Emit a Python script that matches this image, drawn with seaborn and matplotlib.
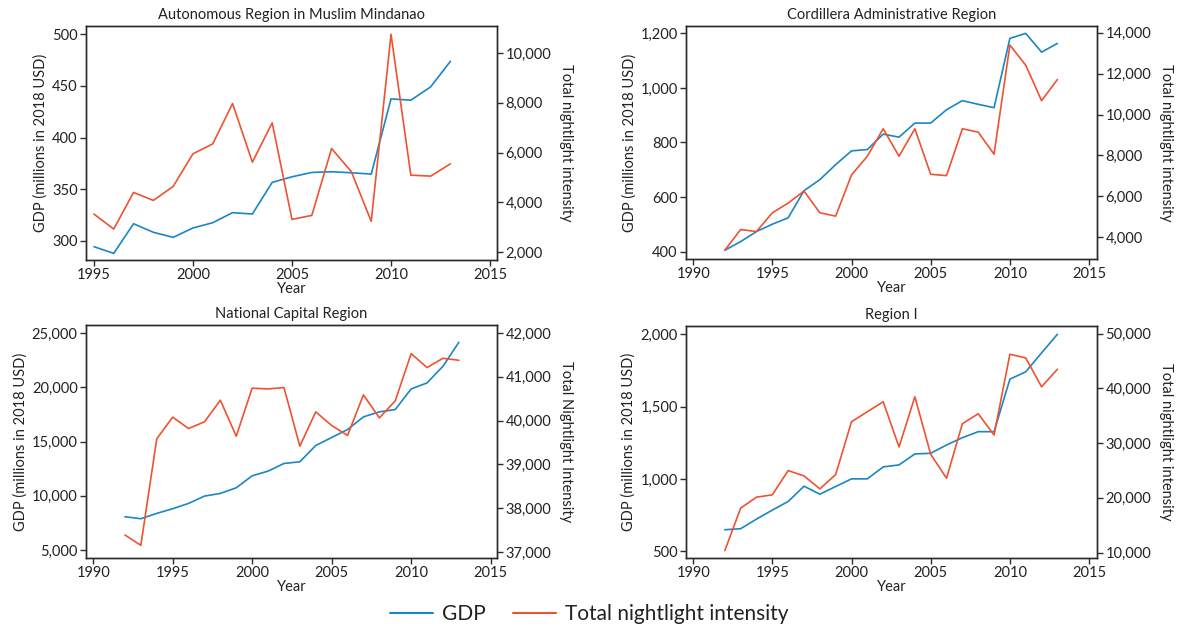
import matplotlib
matplotlib.use("Agg")
import matplotlib.pyplot as plt
import numpy as np
import pandas as pd
import seaborn as sns
from matplotlib.ticker import FuncFormatter
from matplotlib.lines import Line2D

# ---------------- data ----------------
years_armm = list(range(1995, 2014))
gdp_armm = [294.5, 288, 316.7, 308.4, 303.5, 312.6, 317.7, 327.4, 326.1, 356.7,
            362.1, 366.3, 367, 366, 364.7, 437.5, 436.2, 449.1, 473.9]
ntl_armm = [3535, 2935, 4403, 4083, 4643, 5952, 6352, 7968, 5618, 7194,
            3322, 3482, 6166, 5231, 3242, 10745, 5097, 5057, 5551]

years = list(range(1992, 2014))
gdp_car = [404.9, 436.8, 473.6, 500.6, 523.9, 623.3, 663.8, 719, 769.3, 774.2, 830.7,
           819.6, 871.2, 871.2, 920.2, 953.4, 939.9, 927.6, 1181.6, 1200, 1131.3, 1163.2]
ntl_car = [3362, 4376, 4278, 5195, 5669, 6259, 5195, 5031, 7044, 7961, 9303,
           7961, 9303, 7077, 7012, 9303, 9139, 8059, 13394, 12412, 10677, 11709]

gdp_ncr = [8067, 7883, 8374, 8804, 9294, 9969, 10215, 10736, 11840, 12270, 12975,
           13129, 14632, 15368, 16104, 17270, 17730, 17945, 19847, 20399, 21933, 24141]
ntl_ncr = [37388, 37152, 39584, 40078, 39819, 39971, 40465, 39644, 40739, 40723, 40754,
           39416, 40199, 39888, 39660, 40587, 40062, 40450, 41529, 41210, 41422, 41377]

gdp_r1 = [649.3, 656.2, 722.8, 784.8, 844.5, 950.2, 895, 947.9, 1000.7, 1000.7, 1083.4,
          1097.1, 1172.9, 1177.5, 1234.9, 1285.5, 1326.8, 1326.8, 1689.7, 1740.2, 1871.1, 1999.8]
ntl_r1 = [10346, 18118, 20121, 20546, 24979, 24007, 21639, 24250, 33904, 35725, 37547,
          29290, 38458, 27954, 23582, 33540, 35362, 31476, 46230, 45562, 40279, 43497]

titles = ["Autonomous Region in Muslim Mindanao", "Cordillera Administrative Region",
          "National Capital Region", "Region I"]
gdp_label = "GDP (millions in 2018 USD)"
ntl_labels = ["Total nightlight intensity", "Total nightlight intensity",
              "Total Nightlight Intensity", "Total nightlight intensity"]
legend_labels = ["GDP", "Total nightlight intensity"]

# ---------------- style ----------------
sns.set_style("ticks")
plt.rcParams['font.family'] = ['Lato', 'DejaVu Sans']
BLUE = "#1a86c4"
RED = "#ee5331"
SPINE = "#2b2b2b"

fig = plt.figure(figsize=(11.82, 6.31), dpi=100)
W, H = 1182, 631

def pos(l, t, r, b):
    return [l / W, 1 - b / H, (r - l) / W, (b - t) / H]

panels = [
    dict(yrs=years_armm, gdp=gdp_armm, ntl=ntl_armm, box=pos(86, 26, 497, 260),
         xlim=(1994.6, 2015.35), xt=range(1995, 2016, 5),
         ylim=(281.6, 508), yt=range(300, 501, 50),
         y2lim=(1693, 11079), y2t=range(2000, 10001, 2000)),
    dict(yrs=years, gdp=gdp_car, ntl=ntl_car, box=pos(686, 26, 1097, 259),
         xlim=(1989.55, 2015.5), xt=range(1990, 2016, 5),
         ylim=(373, 1227), yt=range(400, 1201, 200),
         y2lim=(2936, 14327), y2t=range(4000, 14001, 2000)),
    dict(yrs=years, gdp=gdp_ncr, ntl=ntl_ncr, box=pos(86, 325, 497, 558),
         xlim=(1989.55, 2015.4), xt=range(1990, 2016, 5),
         ylim=(4264, 25736), yt=range(5000, 25001, 5000),
         y2lim=(36863, 42182), y2t=range(37000, 42001, 1000)),
    dict(yrs=years, gdp=gdp_r1, ntl=ntl_r1, box=pos(686, 326, 1097, 558),
         xlim=(1989.55, 2015.5), xt=range(1990, 2016, 5),
         ylim=(454, 2057), yt=range(500, 2001, 500),
         y2lim=(9010, 51390), y2t=range(10000, 50001, 10000)),
]

fmt = FuncFormatter(lambda v, p: f"{v:,.0f}")
FS = 10.5

for i, p in enumerate(panels):
    ax = fig.add_axes(p["box"])
    df = pd.DataFrame({"Year": p["yrs"], "GDP": p["gdp"], "NTL": p["ntl"]})
    sns.lineplot(data=df, x="Year", y="GDP", ax=ax, color=BLUE, lw=1.2)
    ax2 = ax.twinx()
    sns.lineplot(data=df, x="Year", y="NTL", ax=ax2, color=RED, lw=1.2)

    ax.set_xlim(*p["xlim"])
    ax.set_xticks(list(p["xt"]))
    ax.set_ylim(*p["ylim"])
    ax.set_yticks(list(p["yt"]))
    ax.yaxis.set_major_formatter(fmt)
    ax2.set_ylim(*p["y2lim"])
    ax2.set_yticks(list(p["y2t"]))
    ax2.yaxis.set_major_formatter(fmt)

    for a in (ax, ax2):
        for s in a.spines.values():
            s.set_visible(True)
            s.set_color(SPINE)
            s.set_linewidth(1.0)
        a.tick_params(direction="out", length=4, width=1, color=SPINE,
                      labelsize=FS, labelcolor="#222222", pad=2)

    ax.set_title(titles[i], fontsize=FS, color="#222222", pad=5)
    ax.set_xlabel("Year", fontsize=FS, color="#222222", labelpad=0)
    ax.set_ylabel(gdp_label, fontsize=FS, color="#222222", labelpad=3)
    ax2.set_ylabel(ntl_labels[i], fontsize=FS, color="#222222", rotation=270, labelpad=16)

handles = [Line2D([], [], color=BLUE, lw=1.5), Line2D([], [], color=RED, lw=1.5)]
fig.legend(handles, legend_labels, loc="center", bbox_to_anchor=(589 / W, 1 - 614 / H),
           ncol=2, frameon=False, fontsize=15, handlelength=2.1, handletextpad=0.4,
           columnspacing=1.3, labelcolor="#222222")

fig.savefig("out.png", dpi=100)
